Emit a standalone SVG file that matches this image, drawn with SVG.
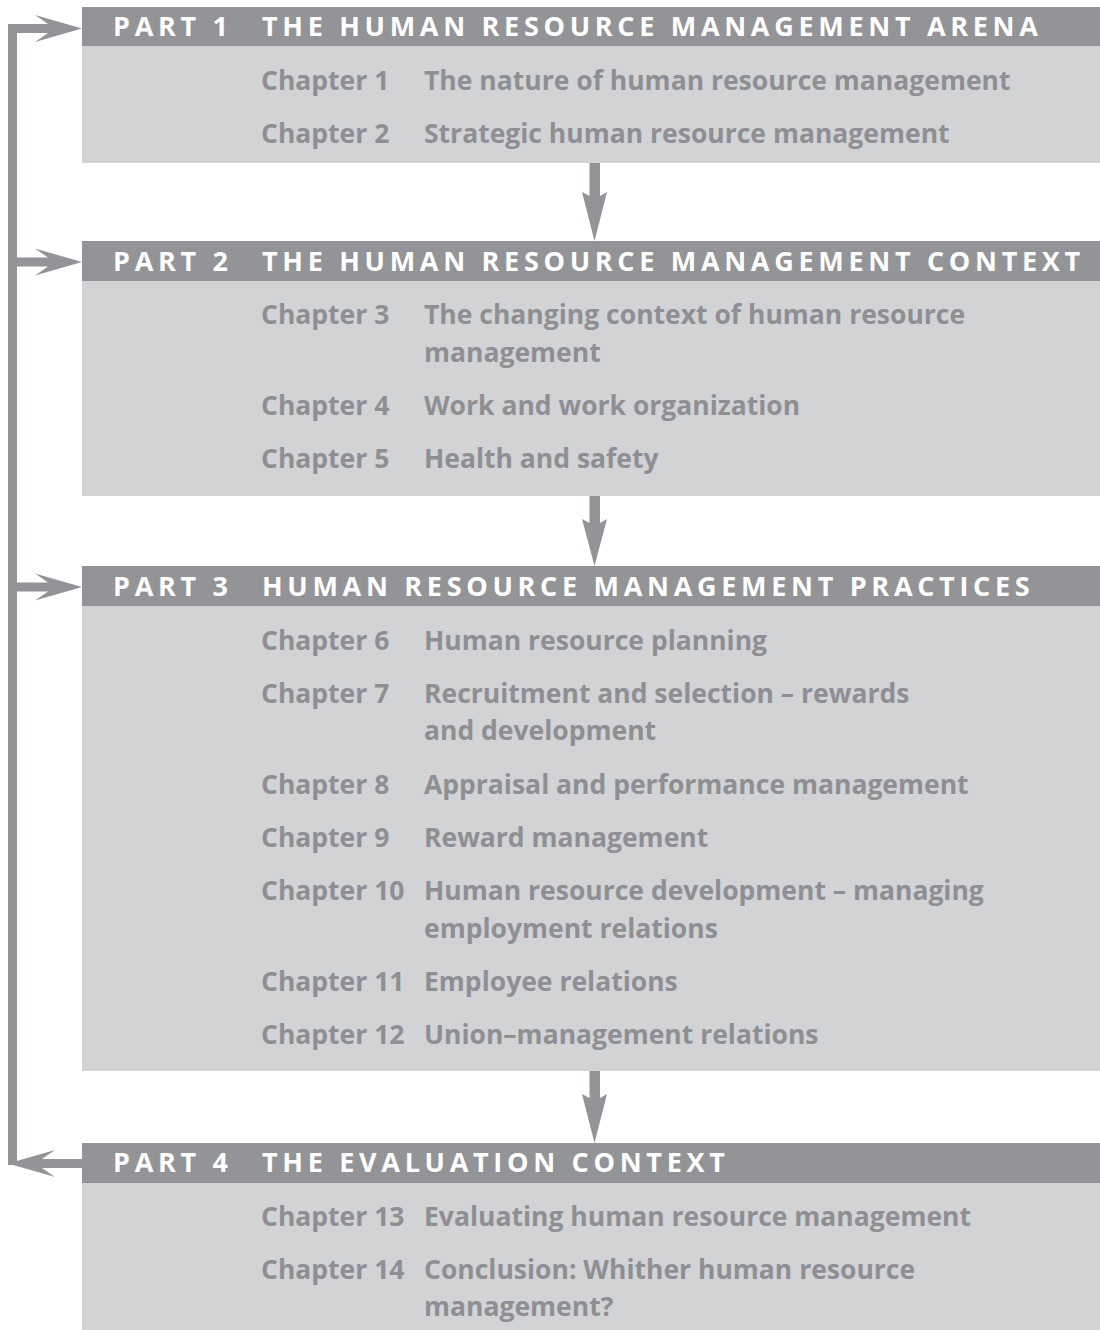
<svg xmlns="http://www.w3.org/2000/svg" width="1100" height="1330" viewBox="0 0 1100 1330">
<style>
.hd{fill:#939498}
.bd{fill:#d2d3d5}
.ht{font-family:"Open Sans","Liberation Sans",sans-serif;font-weight:700;font-size:27px;fill:#ffffff;letter-spacing:4.7px}
.ct{font-family:"Open Sans","Liberation Sans",sans-serif;font-weight:700;font-size:26.5px;fill:#8e8f93}
.ar{fill:#939498}
</style>
<rect width="1100" height="1330" fill="#ffffff"/>
<g id="part1">
<rect class="bd" x="82" y="46" width="1018" height="117"/>
<rect class="hd" x="82" y="7" width="1018" height="39"/>
<text class="ht" x="113" y="36">PART 1</text>
<text class="ht" x="262" y="36">THE HUMAN RESOURCE MANAGEMENT ARENA</text>
<text class="ct" x="261" y="90">Chapter 1</text><text class="ct" x="424" y="90">The nature of human resource management</text>
<text class="ct" x="261" y="143">Chapter 2</text><text class="ct" x="424" y="143">Strategic human resource management</text>
</g>
<g id="part2">
<rect class="bd" x="82" y="281" width="1018" height="215"/>
<rect class="hd" x="82" y="241" width="1018" height="40"/>
<text class="ht" x="113" y="271">PART 2</text>
<text class="ht" x="262" y="271">THE HUMAN RESOURCE MANAGEMENT CONTEXT</text>
<text class="ct" x="261" y="324">Chapter 3</text><text class="ct" x="424" y="324">The changing context of human resource</text>
<text class="ct" x="424" y="362">management</text>
<text class="ct" x="261" y="415">Chapter 4</text><text class="ct" x="424" y="415">Work and work organization</text>
<text class="ct" x="261" y="468">Chapter 5</text><text class="ct" x="424" y="468">Health and safety</text>
</g>
<g id="part3">
<rect class="bd" x="82" y="606" width="1018" height="465"/>
<rect class="hd" x="82" y="566" width="1018" height="40"/>
<text class="ht" x="113" y="596">PART 3</text>
<text class="ht" x="262" y="596">HUMAN RESOURCE MANAGEMENT PRACTICES</text>
<text class="ct" x="261" y="650">Chapter 6</text><text class="ct" x="424" y="650">Human resource planning</text>
<text class="ct" x="261" y="703">Chapter 7</text><text class="ct" x="424" y="703">Recruitment and selection – rewards</text>
<text class="ct" x="424" y="740">and development</text>
<text class="ct" x="261" y="794">Chapter 8</text><text class="ct" x="424" y="794">Appraisal and performance management</text>
<text class="ct" x="261" y="847">Chapter 9</text><text class="ct" x="424" y="847">Reward management</text>
<text class="ct" x="261" y="900">Chapter 10</text><text class="ct" x="424" y="900">Human resource development – managing</text>
<text class="ct" x="424" y="938">employment relations</text>
<text class="ct" x="261" y="991">Chapter 11</text><text class="ct" x="424" y="991">Employee relations</text>
<text class="ct" x="261" y="1044">Chapter 12</text><text class="ct" x="424" y="1044">Union–management relations</text>
</g>
<g id="part4">
<rect class="bd" x="82" y="1183" width="1018" height="147"/>
<rect class="hd" x="82" y="1143" width="1018" height="40"/>
<text class="ht" x="113" y="1172">PART 4</text>
<text class="ht" x="262" y="1172">THE EVALUATION CONTEXT</text>
<text class="ct" x="261" y="1226">Chapter 13</text><text class="ct" x="424" y="1226">Evaluating human resource management</text>
<text class="ct" x="261" y="1279">Chapter 14</text><text class="ct" x="424" y="1279">Conclusion: Whither human resource</text>
<text class="ct" x="424" y="1316">management?</text>
</g>
<g id="connectors">
<rect class="ar" x="8" y="24" width="9" height="1141"/>
<polygon class="ar" points="17,24 48,24 35,15 82,28.5 35,42 48,33 17,33"/>
<polygon class="ar" points="17,257.5 48,257.5 35,248.5 82,262 35,275.5 48,266.5 17,266.5"/>
<polygon class="ar" points="17,582.5 48,582.5 35,573.5 82,587 35,600.5 48,591.5 17,591.5"/>
<polygon class="ar" points="82,1159 42,1159 55,1150 8,1163.5 55,1177 42,1168 82,1168"/>
<polygon class="ar" points="589.5,163 600,163 600,196 607,192 594.5,241 582,192 589.5,196"/>
<polygon class="ar" points="589.5,496 600,496 600,523 607,519 594.5,566 582,519 589.5,523"/>
<polygon class="ar" points="589.5,1071 600,1071 600,1098 607,1094 594.5,1143 582,1094 589.5,1098"/>
</g>
</svg>
